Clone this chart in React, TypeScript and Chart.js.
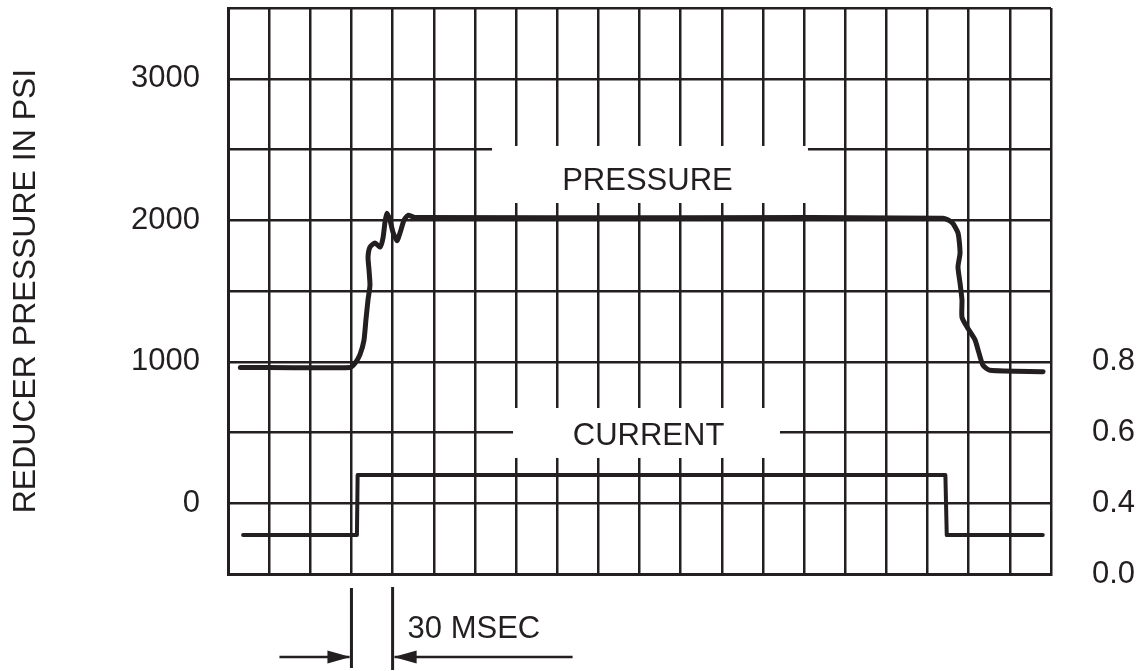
import React, { useEffect, useRef } from "react";
import { Chart, registerables } from "chart.js";

Chart.register(...registerables);

// ---- Data ----
// time axis (msec), one grid division = 30 msec
const timeMin = 0;
const timeMax = 600;
const timeStep = 30;

// pressure axis (psi)
const pressureMin = -500;
const pressureMax = 3500;
const pressureStep = 500;
const pressureTickLabels = [0, 1000, 2000, 3000];

// current axis: labels sit on the lowest four grid lines (non-uniform scale)
const currentTickLabels = [0.0, 0.4, 0.6, 0.8];

// pressure trace
const pressureTimes = [
  9, 89, 92.6, 96.2, 99.1, 100.6, 102.1, 103.5, 102.8, 102.1,
  103.5, 107.2, 110.8, 113.0, 114.5, 115.9, 118.1, 120.3, 123.2, 125.4,
  128.3, 131.2, 136.3, 330, 521.3, 527.8, 532.2, 533.7, 532.2, 533.7,
  535.1, 535.1, 538.8, 544.6, 546.8, 550.4, 555.5, 594.2,
];
const pressurePsi = [
  960, 960, 990, 1050, 1150, 1300, 1440, 1540, 1650, 1740,
  1810, 1840, 1810, 1875, 1990, 2050, 2000, 1915, 1855, 1910,
  2000, 2035, 2020, 2018, 2015, 1985, 1910, 1770, 1670, 1555,
  1435, 1315, 1245, 1155, 1085, 975, 940, 930,
];

// current trace
const currentTimes = [11, 94, 94.5, 523, 524, 594];
const currentAmps = [0.22, 0.22, 0.48, 0.48, 0.22, 0.22];

// annotation: 30 msec span
const spanStart = 90;
const spanEnd = 120;
const spanLabel = "30 MSEC";

const yTitle = "REDUCER PRESSURE IN PSI";

// ---- styling ----
const INK = "#231f20";
const FAMILY = "'Liberation Sans', Arial, Helvetica, sans-serif";
const FONT_SIZE = 31;

// inline trace labels with the white gap they cut into the grid
const traceLabels = [
  { text: "PRESSURE", t0: 192.5, t1: 422.8, p0: 2122, p1: 2525, tx: 305.8, py: 2274 },
  { text: "CURRENT", t0: 207.8, t1: 402.4, p0: 320, p1: 673, tx: 306.6, py: 472 },
];

// map amps to grid divisions of the right axis (piecewise between labelled lines)
function ampsToDivision(a: number): number {
  for (let i = 0; i < currentTickLabels.length - 1; i++) {
    const lo = currentTickLabels[i];
    const hi = currentTickLabels[i + 1];
    if (a <= hi || i === currentTickLabels.length - 2) {
      return i + (a - lo) / (hi - lo);
    }
  }
  return 0;
}

const divisions = (pressureMax - pressureMin) / pressureStep;

const overlayPlugin = {
  id: "overlay",
  beforeDatasetsDraw(chart: any) {
    const { ctx } = chart;
    const x = chart.scales.x;
    const y = chart.scales.y;
    ctx.save();
    for (const b of traceLabels) {
      const x0 = x.getPixelForValue(b.t0);
      const x1 = x.getPixelForValue(b.t1);
      const y0 = y.getPixelForValue(b.p1);
      const y1 = y.getPixelForValue(b.p0);
      ctx.fillStyle = "#ffffff";
      ctx.fillRect(x0, y0, x1 - x0, y1 - y0);
      ctx.fillStyle = INK;
      ctx.font = `${FONT_SIZE}px ${FAMILY}`;
      ctx.textAlign = "center";
      ctx.textBaseline = "middle";
      ctx.fillText(b.text, x.getPixelForValue(b.tx), y.getPixelForValue(b.py));
    }
    ctx.restore();
  },
  afterDraw(chart: any) {
    const { ctx, chartArea } = chart;
    const x = chart.scales.x;
    const xa = x.getPixelForValue(spanStart);
    const xb = x.getPixelForValue(spanEnd);
    const b = chartArea.bottom;
    ctx.save();
    ctx.strokeStyle = INK;
    ctx.fillStyle = INK;
    ctx.lineWidth = 3;
    // extension lines
    ctx.beginPath();
    ctx.moveTo(xa, b + 14);
    ctx.lineTo(xa, b + 94);
    ctx.moveTo(xb, b + 13);
    ctx.lineTo(xb, b + 96);
    ctx.stroke();
    // arrows
    const ay = b + 83;
    ctx.lineWidth = 2.5;
    ctx.beginPath();
    ctx.moveTo(xa - 72, ay);
    ctx.lineTo(xa - 2, ay);
    ctx.moveTo(xb + 2, ay);
    ctx.lineTo(xb + 180, ay);
    ctx.stroke();
    ctx.beginPath();
    ctx.moveTo(xa - 1, ay);
    ctx.lineTo(xa - 24, ay - 6.5);
    ctx.lineTo(xa - 24, ay + 6.5);
    ctx.closePath();
    ctx.fill();
    ctx.beginPath();
    ctx.moveTo(xb + 1, ay);
    ctx.lineTo(xb + 24, ay - 6.5);
    ctx.lineTo(xb + 24, ay + 6.5);
    ctx.closePath();
    ctx.fill();
    // label
    ctx.font = `${FONT_SIZE}px ${FAMILY}`;
    ctx.textAlign = "left";
    ctx.textBaseline = "middle";
    ctx.fillText(spanLabel, xb + 15, b + 55);
    ctx.restore();
  },
};

export default function App() {
  const ref = useRef<HTMLCanvasElement | null>(null);

  useEffect(() => {
    if (!ref.current) return;
    const pressureData = pressureTimes.map((t, i) => ({ x: t, y: pressurePsi[i] }));
    const currentData = currentTimes.map((t, i) => ({ x: t, y: ampsToDivision(currentAmps[i]) }));

    const chart = new Chart(ref.current, {
      type: "line",
      data: {
        datasets: [
          {
            label: "PRESSURE",
            data: pressureData,
            yAxisID: "y",
            borderColor: INK,
            borderWidth: 5,
            pointRadius: 0,
            tension: 0.2,
            borderJoinStyle: "round",
            borderCapStyle: "round",
            fill: false,
          },
          {
            label: "CURRENT",
            data: currentData,
            yAxisID: "y2",
            borderColor: INK,
            borderWidth: 4,
            pointRadius: 0,
            tension: 0,
            borderJoinStyle: "round",
            borderCapStyle: "round",
            fill: false,
          },
        ],
      },
      options: {
        responsive: false,
        animation: false,
        devicePixelRatio: 1,
        layout: { padding: { top: 8, left: 0, right: 0, bottom: 0 } },
        plugins: {
          legend: { display: false },
          tooltip: { enabled: false },
          title: { display: false },
        },
        scales: {
          x: {
            type: "linear",
            min: timeMin,
            max: timeMax,
            ticks: { stepSize: timeStep, display: false },
            grid: { color: INK, lineWidth: 2.5, drawTicks: false },
            border: { color: INK, width: 3 },
            afterFit: (s: any) => {
              s.height = 97;
              s.paddingLeft = 0;
              s.paddingRight = 0;
            },
          },
          y: {
            type: "linear",
            position: "left",
            min: pressureMin,
            max: pressureMax,
            ticks: {
              stepSize: pressureStep,
              color: INK,
              padding: 28,
              font: { size: FONT_SIZE, family: FAMILY },
              callback: (v: any) => (pressureTickLabels.includes(Number(v)) ? String(v) : ""),
            },
            grid: { color: INK, lineWidth: 2.5, drawTicks: false },
            border: { color: INK, width: 3 },
            title: {
              display: true,
              text: yTitle,
              color: INK,
              font: { size: 32, family: FAMILY },
              padding: { top: 7, bottom: 0 },
            },
            afterFit: (s: any) => {
              s.width = 228;
              s.paddingTop = 0;
              s.paddingBottom = 0;
            },
          },
          y2: {
            type: "linear",
            position: "right",
            min: 0,
            max: divisions,
            ticks: {
              stepSize: 1,
              color: INK,
              padding: 41,
              font: { size: FONT_SIZE, family: FAMILY },
              callback: (v: any) => {
                const i = Number(v);
                return Number.isInteger(i) && i < currentTickLabels.length
                  ? currentTickLabels[i].toFixed(1)
                  : "";
              },
            },
            grid: { display: false, drawTicks: false },
            border: { display: false },
            afterFit: (s: any) => {
              s.width = 91;
              s.paddingTop = 0;
              s.paddingBottom = 0;
            },
          },
        },
      },
      plugins: [overlayPlugin],
    });
    return () => chart.destroy();
  }, []);

  return (
    <div
      style={{
        position: "fixed",
        left: 0,
        top: 0,
        width: 1142,
        height: 671,
        background: "#ffffff",
      }}
    >
      <canvas ref={ref} width={1142} height={671} style={{ display: "block" }} />
    </div>
  );
}
